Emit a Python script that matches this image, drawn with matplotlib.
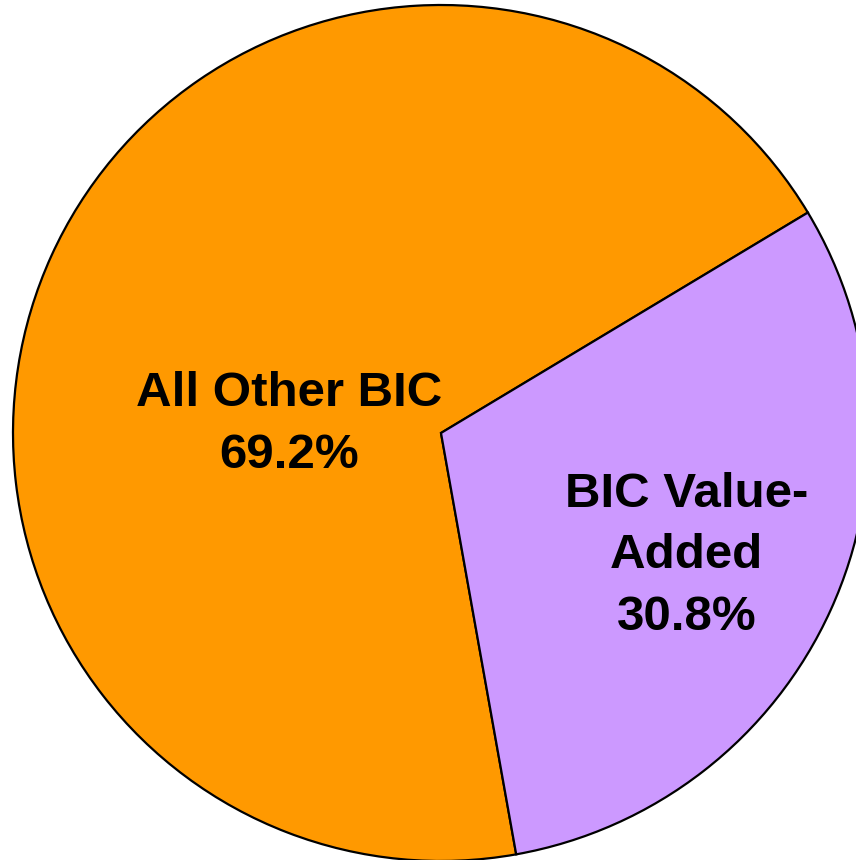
import matplotlib
matplotlib.use("Agg")
import matplotlib.pyplot as plt

# slice data
labels = ["All Other BIC", "BIC Value-\nAdded"]
values = [69.2, 30.8]
colors = ["#FF9900", "#CC99FF"]

fig = plt.figure(figsize=(8.56, 8.6), dpi=100)
ax = fig.add_axes([0, 0, 1, 1])

# pie is cropped by the figure edge, so set limits by hand (428 px per unit)
cx, cy, r = 441, 433, 428
ax.pie(values, colors=colors, startangle=31, counterclock=True, radius=1,
       wedgeprops=dict(edgecolor="black", linewidth=1.6))
ax.set_xlim(-cx / r, (856 - cx) / r)
ax.set_ylim(-(860 - cy) / r, cy / r)
ax.set_aspect("equal")
ax.axis("off")

# label positions (data coords)
label_pos = [(-0.355, 0.02), (0.573, -0.287)]
for lab, val, (x, y) in zip(labels, values, label_pos):
    ax.text(x, y, f"{lab}\n{val:.1f}%", ha="center", va="center",
            multialignment="center", fontsize=35.5, fontweight="bold",
            family="Liberation Sans", linespacing=1.47)

plt.savefig("out.png", dpi=100)
